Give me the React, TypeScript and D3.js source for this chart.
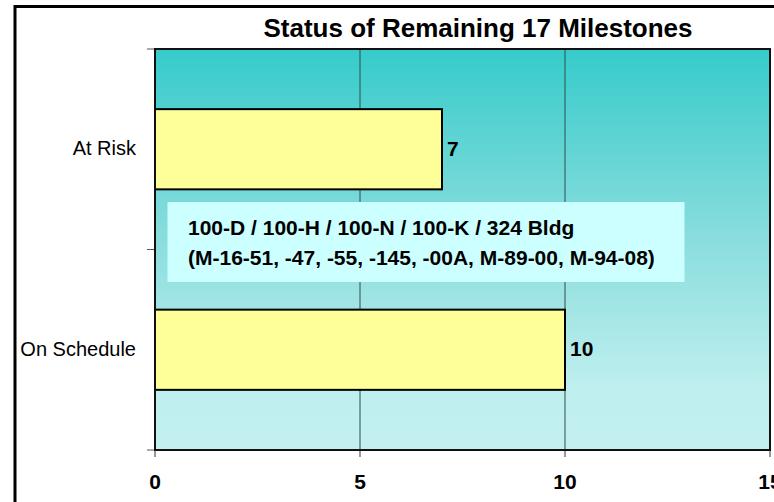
import React, { useEffect, useRef } from 'react'
import * as d3 from 'd3'

const categories = ['At Risk', 'On Schedule']
const values = [7, 10]
const xTicks = [0, 5, 10, 15]
const title = 'Status of Remaining 17 Milestones'
const noteLines = [
    '100-D / 100-H / 100-N / 100-K / 324 Bldg',
    '(M-16-51, -47, -55, -145, -00A, M-89-00, M-94-08)',
]

const App: React.FC = () => {
    const svgRef = useRef<SVGSVGElement>(null)
    const width = 774
    const height = 502

    useEffect(() => {
        if (!svgRef.current) return
        const svg = d3.select(svgRef.current)
        svg.selectAll('*').remove()

        const plot = { left: 155, top: 49, right: 770, bottom: 450 }
        const font = '"Liberation Sans", Arial, sans-serif'

        const x = d3.scaleLinear().domain([0, 15]).range([plot.left, plot.right])
        const y = d3.scaleBand().domain(categories).range([plot.top, plot.bottom])
            .paddingInner(0.6).paddingOuter(0.3)

        // background gradient
        const defs = svg.append('defs')
        const grad = defs.append('linearGradient')
            .attr('id', 'bg').attr('x1', 0).attr('y1', 0).attr('x2', 0).attr('y2', 1)
        grad.append('stop').attr('offset', '0%').attr('stop-color', '#36CBCB')
        grad.append('stop').attr('offset', '45%').attr('stop-color', '#86DCDC')
        grad.append('stop').attr('offset', '85%').attr('stop-color', '#C0EFEF')
        grad.append('stop').attr('offset', '100%').attr('stop-color', '#C2F0F0')

        // outer chart border
        svg.append('rect')
            .attr('x', 15).attr('y', 6.5)
            .attr('width', 900).attr('height', 600)
            .attr('fill', '#fff').attr('stroke', '#000').attr('stroke-width', 3)

        // title
        svg.append('text')
            .attr('x', 478).attr('y', 37)
            .attr('text-anchor', 'middle')
            .style('font-family', font).style('font-weight', 'bold').style('font-size', '26px')
            .text(title)

        // plot area
        svg.append('rect')
            .attr('x', plot.left).attr('y', plot.top)
            .attr('width', plot.right - plot.left).attr('height', plot.bottom - plot.top)
            .attr('fill', 'url(#bg)')

        // gridlines
        svg.selectAll('.grid')
            .data(xTicks.filter(t => t > 0 && t < 15))
            .enter().append('line')
            .attr('x1', d => x(d)).attr('x2', d => x(d))
            .attr('y1', plot.top).attr('y2', plot.bottom)
            .attr('stroke', '#2f4f4f').attr('stroke-width', 1)

        // x ticks
        svg.selectAll('.xtick')
            .data(xTicks)
            .enter().append('line')
            .attr('x1', d => x(d)).attr('x2', d => x(d))
            .attr('y1', plot.bottom).attr('y2', plot.bottom + 7)
            .attr('stroke', '#333').attr('stroke-width', 1)

        svg.selectAll('.xlabel')
            .data(xTicks)
            .enter().append('text')
            .attr('x', d => x(d)).attr('y', 489)
            .attr('text-anchor', 'middle')
            .style('font-family', font).style('font-weight', 'bold').style('font-size', '21px')
            .text(d => d)

        // category ticks at band boundaries
        const step = y.step()
        const bounds = [plot.top, plot.top + step, plot.bottom]
        svg.selectAll('.ytick')
            .data(bounds)
            .enter().append('line')
            .attr('x1', plot.left - 8).attr('x2', plot.left)
            .attr('y1', d => d).attr('y2', d => d)
            .attr('stroke', '#555').attr('stroke-width', 1)

        // category labels
        svg.selectAll('.ylabel')
            .data(categories)
            .enter().append('text')
            .attr('x', 136)
            .attr('y', d => (y(d) as number) + y.bandwidth() / 2)
            .attr('dy', '0.3em')
            .attr('text-anchor', 'end')
            .style('font-family', font).style('font-size', '20px')
            .text(d => d)

        // bars
        svg.selectAll('.bar')
            .data(values)
            .enter().append('rect')
            .attr('x', x(0))
            .attr('y', (d, i) => y(categories[i]) as number)
            .attr('width', d => x(d) - x(0))
            .attr('height', y.bandwidth())
            .attr('fill', '#FFFF99').attr('stroke', '#000').attr('stroke-width', 2)

        // value labels
        svg.selectAll('.val')
            .data(values)
            .enter().append('text')
            .attr('x', d => x(d) + 5)
            .attr('y', (d, i) => (y(categories[i]) as number) + y.bandwidth() / 2)
            .attr('dy', '0.3em')
            .style('font-family', font).style('font-weight', 'bold').style('font-size', '21px')
            .text(d => d)

        // plot border
        svg.append('rect')
            .attr('x', plot.left).attr('y', plot.top)
            .attr('width', plot.right - plot.left).attr('height', plot.bottom - plot.top)
            .attr('fill', 'none').attr('stroke', '#111').attr('stroke-width', 2)

        // annotation box
        const note = svg.append('g')
        note.append('rect')
            .attr('x', 167.5).attr('y', 202)
            .attr('width', 517).attr('height', 80)
            .attr('fill', '#CCFFFF')
        note.selectAll('text')
            .data(noteLines)
            .enter().append('text')
            .attr('x', 188)
            .attr('y', (d, i) => 235 + i * 29.5)
            .style('font-family', font).style('font-weight', 'bold').style('font-size', '21px')
            .text(d => d)
    }, [])

    return (
        <div style={{ position: 'absolute', left: 0, top: 0 }}>
            <svg ref={svgRef} width={width} height={height} style={{ display: 'block' }} />
        </div>
    )
}

export default App
